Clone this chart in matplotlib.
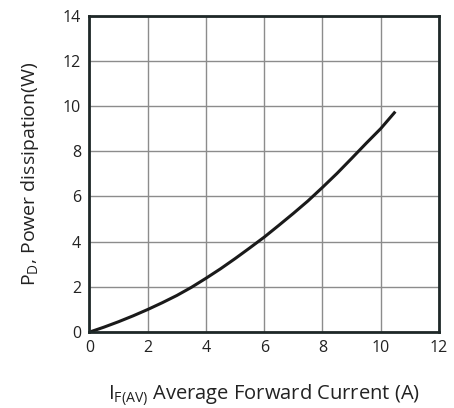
import matplotlib
matplotlib.use('Agg')
import matplotlib.pyplot as plt
import numpy as np

plt.rcParams['font.family'] = ['Open Sans', 'DejaVu Sans']
plt.rcParams['mathtext.fontset'] = 'custom'
plt.rcParams['mathtext.rm'] = 'Open Sans'

# forward current (A) vs power dissipation (W)
current = [0, 0.5, 1, 1.5, 2, 2.5, 3, 3.5, 4, 4.5, 5, 5.5, 6, 6.5, 7, 7.5, 8, 8.5, 9, 9.5, 10, 10.5]
power = [0, 0.22, 0.46, 0.72, 1.0, 1.3, 1.62, 1.98, 2.38, 2.8, 3.25, 3.72, 4.2, 4.72, 5.25, 5.8, 6.4, 7.02, 7.68, 8.35, 9.0, 9.75]

xticks = [0, 2, 4, 6, 8, 10, 12]
yticks = [0, 2, 4, 6, 8, 10, 12, 14]

fig = plt.figure(figsize=(4.54, 4.08), dpi=100)
ax = fig.add_axes([0.197, 0.186, 0.77, 0.776])

ax.plot(current, power, color='#1a1a1a', lw=2.2, solid_capstyle='butt')

ax.set_xlim(0, 12)
ax.set_ylim(0, 14)
ax.set_xticks(xticks)
ax.set_yticks(yticks)
ax.grid(True, color='#8c8c8c', lw=1)
ax.tick_params(length=0, labelsize=11.5, colors='#222222', pad=6)
for s in ax.spines.values():
    s.set_linewidth(2)
    s.set_color('#1e2828')

ax.set_xlabel(r'I$\mathregular{_{F(AV)}}$ Average Forward Current (A)', fontsize=14.5, labelpad=19, color='#222222')
ax.set_ylabel(r'P$\mathregular{_{D}}$, Power dissipation(W)', fontsize=14, labelpad=16, color='#222222')

fig.savefig('out.png', dpi=100)
